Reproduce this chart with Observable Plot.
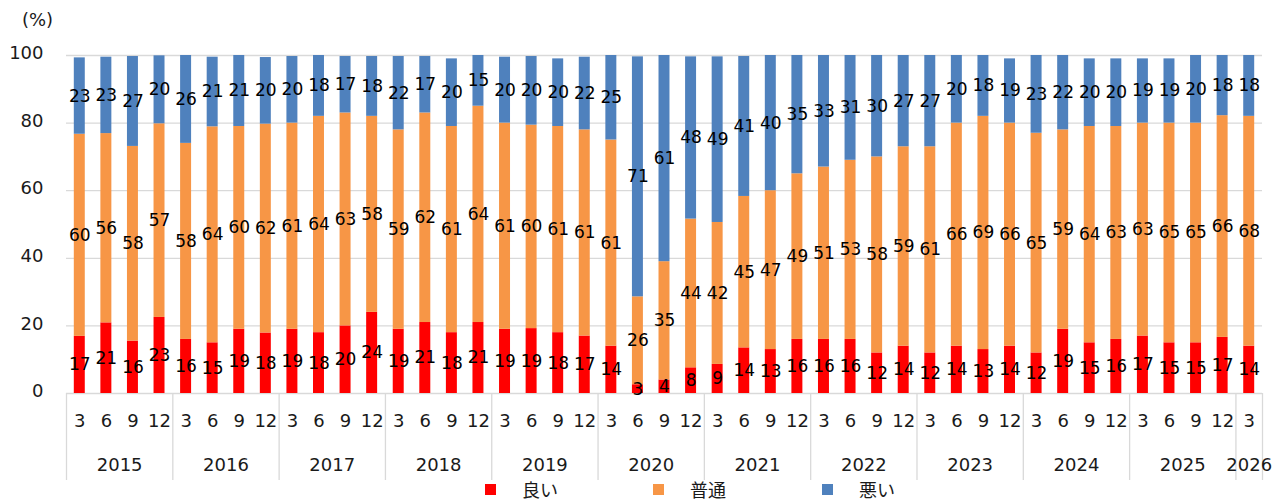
<!DOCTYPE html>
<html><head><meta charset="utf-8">
<script src="https://cdn.jsdelivr.net/npm/d3@7"></script>
<script src="https://cdn.jsdelivr.net/npm/@observablehq/plot@0.6"></script>
<style>
body{margin:0;background:#fff;font-family:"DejaVu Sans",sans-serif;overflow:hidden;}
#chart{position:relative;width:1284px;height:478px;}
#legend{position:relative;width:1284px;height:22px;}
.item{position:absolute;top:0;height:22px;display:flex;align-items:center;font-family:"Noto Sans CJK JP",sans-serif;font-size:18px;color:#1a1a1a;line-height:22px;}
.sw{width:11px;height:11px;margin-right:26px;}
</style>
</head><body>
<div id="chart"></div>
<div id="legend"></div>
<script>
// Periods
const years = [2015,2015,2015,2015,2016,2016,2016,2016,2017,2017,2017,2017,2018,2018,2018,2018,2019,2019,2019,2019,2020,2020,2020,2020,2021,2021,2021,2021,2022,2022,2022,2022,2023,2023,2023,2023,2024,2024,2024,2024,2025,2025,2025,2025,2026];
const months = [3,6,9,12,3,6,9,12,3,6,9,12,3,6,9,12,3,6,9,12,3,6,9,12,3,6,9,12,3,6,9,12,3,6,9,12,3,6,9,12,3,6,9,12,3];
// Series values (%)
const good   = [16.9,20.9,15.5,22.5,16,15,19,17.9,19,18,20,24,19,21,18,21,19,19.2,18,17,14,2.6,4,7.6,8.6,13.5,13,16,16,16,12,14,12,14,13,14,12,19,15,16,17,15,15,16.6,14];
const normal = [59.8,56,57.6,57.3,58,63.9,60,61.8,61,64,63,58,59,62,61,64,61,60.2,61,61,61,26,35,44,42,44.8,47,49,51,53,58,59,61,66,69,66,65,59,64,63,63,65,65,65.6,68];
const bad    = [22.6,22.6,26.6,20.1,26,20.6,21,19.7,19.7,18,16.7,17.7,21.7,16.7,20,15,19.5,20.3,20,21.5,25,71,61,48,49,41.4,40,35,33,31,30,27,27,20,18,19,23,22,20,20,19,19,20,17.8,18];
const seriesNames = ["良い","普通","悪い"];
const seriesColors = ["#FF0000","#F79646","#4F81BD"];
const yTicks = [0,20,40,60,80,100];

const n = years.length;
const seriesValues = [good, normal, bad];
const rows = [];
for (let i = 0; i < n; i++) {
  let acc = 0;
  seriesValues.forEach((vals, s) => {
    const v = vals[i];
    rows.push({i, series: seriesNames[s], value: v, y1: acc, y2: acc + v});
    acc += v;
  });
}
const xCenters = d3.range(n).map(i => i + 0.5);
const yearList = Array.from(new Set(years));
const yearLabels = yearList.map(y => {
  const idx = d3.range(n).filter(i => years[i] === y);
  return {year: String(y), xc: d3.mean(idx, i => i + 0.5)};
});
const separators = yearList.map(y => years.indexOf(y)).concat([n]);

const chart = Plot.plot({
  width: 1284, height: 478,
  marginTop: 55, marginBottom: 85, marginLeft: 66, marginRight: 22,
  style: {fontFamily: "DejaVu Sans", fontSize: "18px", color: "#1a1a1a", background: "#fff", overflow: "visible"},
  x: {domain: [0, n], axis: null},
  y: {domain: [0, 100], axis: null},
  color: {domain: seriesNames, range: seriesColors},
  marks: [
    Plot.gridY(yTicks, {stroke: "#d9d9d9", strokeOpacity: 1, strokeWidth: 1.3}),
    Plot.rectY(rows, {x1: d => d.i, x2: d => d.i + 1, y1: "y1", y2: "y2", fill: "series", insetLeft: 7.8, insetRight: 7.8}),
    Plot.text(rows, {x: d => d.i + 0.5, y: d => (d.y1 + d.y2) / 2, text: d => String(Math.round(d.value)), fontSize: 17, fill: "#000"}),
    Plot.axisY({ticks: yTicks, tickSize: 0, tickPadding: 23, fontSize: 18, dy: -2, label: null}),
    Plot.axisX({ticks: xCenters, tickFormat: d => String(months[Math.floor(d)]), tickSize: 0, tickPadding: 21, fontSize: 18, label: null}),
    Plot.ruleX(separators, {x: d => d, stroke: "#d9d9d9", strokeWidth: 1.3, insetTop: 338, insetBottom: -87}),
    Plot.text(yearLabels, {x: "xc", text: "year", frameAnchor: "bottom", dy: 72, fontSize: 18, lineAnchor: "middle", fill: "#1a1a1a"}),
    Plot.text(["(%)"], {text: d => d, frameAnchor: "top-left", dx: -29, dy: -35, textAnchor: "middle", lineAnchor: "middle", fontSize: 18, fill: "#1a1a1a"})
  ]
});
document.getElementById("chart").appendChild(chart);

const legend = document.getElementById("legend");
const legendLeft = [485, 653, 822];
seriesNames.forEach((name, k) => {
  const item = document.createElement("div");
  item.className = "item";
  item.style.left = legendLeft[k] + "px";
  const sw = document.createElement("span");
  sw.className = "sw";
  sw.style.background = seriesColors[k];
  const label = document.createElement("span");
  label.textContent = name;
  item.appendChild(sw);
  item.appendChild(label);
  legend.appendChild(item);
});
</script>
</body></html>
